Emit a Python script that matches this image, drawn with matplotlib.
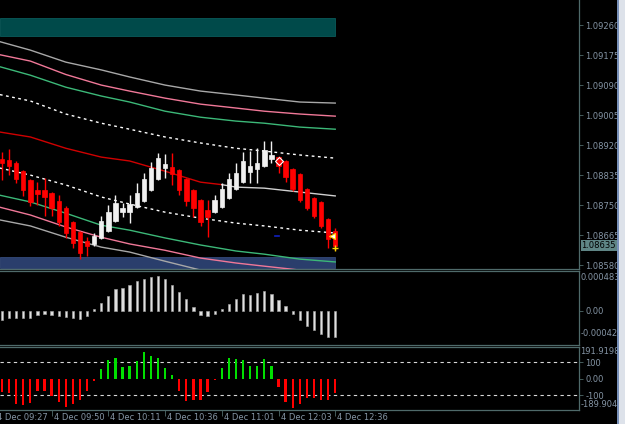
import matplotlib
matplotlib.use('Agg')
import matplotlib.pyplot as plt
import matplotlib.transforms as mtransforms
from matplotlib.patches import Rectangle
import numpy as np

# ---------------- data ----------------
time_tick_idx = [-1, 7, 15, 23, 31, 39, 47]
time_labels = ["4 Dec 09:27", "4 Dec 09:50", "4 Dec 10:11", "4 Dec 10:36",
               "4 Dec 11:01", "4 Dec 12:03", "4 Dec 12:36"]

opens = [1.08880, 1.08878, 1.08869, 1.08846, 1.08821, 1.08793, 1.08793, 1.08784,
         1.08761, 1.08742, 1.08702, 1.08674, 1.08648, 1.08640, 1.08657, 1.08676,
         1.08705, 1.08730, 1.08730, 1.08744, 1.08761, 1.08793, 1.08824, 1.08855,
         1.08858, 1.08849, 1.08824, 1.08793, 1.08764, 1.08736, 1.08730, 1.08744,
         1.08770, 1.08795, 1.08815, 1.08843, 1.08852, 1.08860, 1.08880, 1.08886,
         1.08875, 1.08852, 1.08838, 1.08795, 1.08770, 1.08759, 1.08710, 1.08676]
highs = [1.08900, 1.08909, 1.08875, 1.08849, 1.08824, 1.08815, 1.08827, 1.08787,
         1.08778, 1.08747, 1.08705, 1.08676, 1.08659, 1.08671, 1.08719, 1.08750,
         1.08778, 1.08756, 1.08778, 1.08812, 1.08841, 1.08872, 1.08897, 1.08895,
         1.08897, 1.08852, 1.08827, 1.08795, 1.08767, 1.08764, 1.08778, 1.08812,
         1.08841, 1.08869, 1.08900, 1.08903, 1.08912, 1.08931, 1.08931, 1.08889,
         1.08878, 1.08855, 1.08841, 1.08798, 1.08773, 1.08761, 1.08713, 1.08685]
lows = [1.08821, 1.08835, 1.08812, 1.08776, 1.08747, 1.08750, 1.08719, 1.08719,
        1.08691, 1.08657, 1.08628, 1.08597, 1.08605, 1.08634, 1.08654, 1.08674,
        1.08702, 1.08716, 1.08699, 1.08742, 1.08759, 1.08790, 1.08821, 1.08827,
        1.08807, 1.08778, 1.08747, 1.08716, 1.08691, 1.08659, 1.08727, 1.08742,
        1.08767, 1.08793, 1.08812, 1.08812, 1.08812, 1.08858, 1.08869, 1.08841,
        1.08815, 1.08790, 1.08759, 1.08736, 1.08713, 1.08685, 1.08628, 1.08622]
closes = [1.08869, 1.08860, 1.08824, 1.08793, 1.08759, 1.08781, 1.08773, 1.08742,
          1.08702, 1.08671, 1.08642, 1.08614, 1.08634, 1.08662, 1.08705, 1.08730,
          1.08756, 1.08742, 1.08753, 1.08784, 1.08824, 1.08855, 1.08883, 1.08866,
          1.08838, 1.08793, 1.08761, 1.08742, 1.08702, 1.08716, 1.08764, 1.08795,
          1.08824, 1.08841, 1.08875, 1.08860, 1.08869, 1.08906, 1.08892, 1.08860,
          1.08829, 1.08795, 1.08764, 1.08742, 1.08719, 1.08691, 1.08654, 1.08634]

band_idx = [-0.3, 4, 9, 14, 18, 23, 28, 33, 37, 42, 47]
upper_gray = [1.09213, 1.09189, 1.09155, 1.09133, 1.09113, 1.09090, 1.09073, 1.09062, 1.09053, 1.09042, 1.09039]
upper_pink = [1.09176, 1.09158, 1.09120, 1.09090, 1.09073, 1.09053, 1.09036, 1.09025, 1.09016, 1.09008, 1.09002]
upper_green = [1.09142, 1.09118, 1.09084, 1.09059, 1.09042, 1.09016, 1.08999, 1.08988, 1.08982, 1.08971, 1.08965]
upper_dash = [1.09063, 1.09045, 1.09008, 1.08982, 1.08965, 1.08943, 1.08926, 1.08911, 1.08903, 1.08892, 1.08883]
lower_dash = [1.08855, 1.08835, 1.08807, 1.08773, 1.08753, 1.08730, 1.08713, 1.08699, 1.08691, 1.08679, 1.08671]
lower_green = [1.08778, 1.08759, 1.08727, 1.08693, 1.08679, 1.08657, 1.08637, 1.08620, 1.08611, 1.08597, 1.08589]
lower_pink = [1.08744, 1.08722, 1.08688, 1.08659, 1.08640, 1.08622, 1.08600, 1.08586, 1.08577, 1.08566, 1.08557]
lower_gray = [1.08708, 1.08691, 1.08659, 1.08631, 1.08617, 1.08591, 1.08566, 1.08549, 1.08537, 1.08523, 1.08515]

mid_red_idx = [-0.3, 4, 9, 14, 18, 23, 28, 31]
mid_red = [1.08957, 1.08943, 1.08911, 1.08886, 1.08875, 1.08846, 1.08815, 1.08808]
mid_white_idx = [31, 33, 37, 42, 47]
mid_white = [1.08808, 1.08801, 1.08798, 1.08787, 1.08776]

osc = [-0.000118, -0.000097, -0.000088, -0.000088, -0.000097, -0.000055, -0.000042,
       -0.000055, -0.000067, -0.000076, -0.000097, -0.000109, -0.000067, 0.000017,
       0.000093, 0.000185, 0.000274, 0.000282, 0.000324, 0.000375, 0.000400,
       0.000425, 0.000438, 0.000391, 0.000324, 0.000236, 0.000147, 0.000046,
       -0.000055, -0.000063, -0.000042, 0.000021, 0.000080, 0.000147, 0.000210,
       0.000198, 0.000223, 0.000248, 0.000202, 0.000135, 0.000059, -0.000042,
       -0.000118, -0.000194, -0.000244, -0.000295, -0.000328, -0.000328]

cci = [-83, -89, -155, -161, -145, -77, -77, -108, -139, -172, -151, -130, -72, -17,
       58, 114, 124, 68, 77, 110, 159, 139, 124, 66, 25,
       -72, -134, -130, -128, -83, -8,
       66, 124, 118, 114, 77, 77, 118, 77,
       -48, -139, -176, -151, -120, -118, -128, -130, -89]

price_ticks = [1.08580, 1.08665, 1.08750, 1.08835, 1.08920, 1.09005, 1.09090, 1.09175, 1.09260]
last_price = 1.08635
zone_top = (1.09229, 1.09280)
zone_bottom = (1.08572, 1.08603)
osc_range = (-0.000426, 0.000483)
cci_range = (-189.9047, 191.9198)
cci_levels = [100, -100]

# ---------------- style ----------------
BG = 'black'
FRAME = '#4f6a6a'
LBL = '#8595a5'
FS = 6

fig = plt.figure(figsize=(6.25, 4.24), dpi=100, facecolor=BG)
W, H = 625.0, 424.0


def px_axes(top, bottom, left=0, right=579):
    return fig.add_axes([left / W, 1 - bottom / H, (right - left) / W, (bottom - top) / H])


ax1 = px_axes(0, 269)
ax2 = px_axes(271, 345)
ax3 = px_axes(347, 410)

xlim = (-0.28, 81.38)
for ax in (ax1, ax2, ax3):
    ax.set_facecolor(BG)
    ax.set_xlim(*xlim)
    ax.spines['left'].set_visible(False)
    for s in ('right', 'top', 'bottom'):
        ax.spines[s].set_color(FRAME)
        ax.spines[s].set_linewidth(0.9)
    ax.yaxis.tick_right()
    ax.tick_params(axis='y', colors=LBL, labelsize=FS, length=3, width=0.6, pad=1.5)
    ax.tick_params(axis='y', color=FRAME)
    ax.set_xticks([])
ax1.spines['top'].set_visible(False)

# ---------------- price panel ----------------
idx = np.arange(len(opens))
ax1.set_ylim(1.08569, 1.09331)

ax1.add_patch(Rectangle((-0.3, zone_top[0]), 47.3, zone_top[1] - zone_top[0],
                        facecolor='#004a4a', edgecolor='#0a5a5a', linewidth=0.6, zorder=1))
ax1.add_patch(Rectangle((-0.3, zone_bottom[0]), 47.3, zone_bottom[1] - zone_bottom[0],
                        facecolor='#2a3e6c', edgecolor='#34497a', linewidth=0.6, zorder=1))

ax1.plot(band_idx, upper_gray, color='#a8a8a8', lw=1.0, zorder=2)
ax1.plot(band_idx, upper_pink, color='#f07898', lw=1.0, zorder=2)
ax1.plot(band_idx, upper_green, color='#3cb878', lw=1.0, zorder=2)
ax1.plot(band_idx, upper_dash, color='white', lw=1.0, ls=(0, (2, 2.5)), zorder=2)
ax1.plot(mid_red_idx, mid_red, color='#d00000', lw=1.0, zorder=2)
ax1.plot(mid_white_idx, mid_white, color='#d0d0d0', lw=1.0, zorder=2)
ax1.plot(band_idx, lower_dash, color='white', lw=1.0, ls=(0, (2, 2.5)), zorder=2)
ax1.plot(band_idx, lower_green, color='#3cb878', lw=1.0, zorder=3)
ax1.plot(band_idx, lower_pink, color='#f07898', lw=1.0, zorder=3)
ax1.plot(band_idx, lower_gray, color='#a8a8a8', lw=1.0, zorder=3)

o = np.array(opens); c = np.array(closes); h = np.array(highs); l = np.array(lows)
up = c >= o
colors = np.where(up, '#f0f0f0', '#ff0000')
ax1.vlines(idx, l, h, colors=colors, lw=1.0, zorder=4)
body_bot = np.minimum(o, c)
body_h = np.maximum(np.abs(c - o), 0.000015)
ax1.bar(idx, body_h, bottom=body_bot, width=0.62, color=colors, edgecolor=colors,
        linewidth=0.5, zorder=5)

# signal markers
ax1.plot([39], [1.08875], marker='D', ms=4, mfc='#ff0000', mec='white', mew=0.8, zorder=6, ls='none')
ax1.plot([46.6], [1.08662], marker='<', ms=5, mfc='white', mec='#ffcc00', mew=0.8, zorder=6, ls='none')
ax1.plot([47], [1.08628], marker='+', ms=5, color='#ffd700', mew=1.0, zorder=6, ls='none')
ax1.plot([38.5, 39.1], [1.08662, 1.08662], color='#1020c0', lw=1.2, zorder=2)

ax1.set_yticks(price_ticks)
ax1.set_yticklabels(['%.5f' % v for v in price_ticks])

trans_r = mtransforms.blended_transform_factory(ax1.transAxes, ax1.transData)
off = mtransforms.ScaledTranslation(2.5 / 100, 0, fig.dpi_scale_trans)
ax1.text(1.0, last_price, '%.5f' % last_price, transform=trans_r + off, ha='left', va='center',
         fontsize=FS, color='black',
         bbox=dict(boxstyle='square,pad=0.12', fc='#5f8585', ec='none'), zorder=10, clip_on=False)

# ---------------- oscillator panel ----------------
ax2.set_ylim(osc_range[0] - 0.000006, osc_range[1] + 0.000012)
ax2.bar(idx, osc, width=0.32, color='#e0e0e0', edgecolor='#a8a8a8', linewidth=0.4, zorder=3)
ax2.set_yticks([0])
ax2.set_yticklabels(['0.00'])
off2 = mtransforms.ScaledTranslation(1.5 / 100, 0, fig.dpi_scale_trans)
ax2.text(1.0, 0.915, '%.6f' % osc_range[1], transform=ax2.transAxes + off2, ha='left', va='center',
         fontsize=FS, color=LBL, clip_on=False)
ax2.text(1.0, 0.15, '%.6f' % osc_range[0], transform=ax2.transAxes + off2, ha='left', va='center',
         fontsize=FS, color=LBL, clip_on=False)

# ---------------- CCI panel ----------------
ax3.set_ylim(*cci_range)
cci_arr = np.array(cci)
ccol = np.where(cci_arr >= 0, '#00e000', '#ff0000')
ax3.bar(idx, cci_arr, width=0.32, color=ccol, zorder=3)
for lv in cci_levels:
    ax3.axhline(lv, color='#d8d8d8', lw=0.8, ls=(0, (3, 3)), zorder=2)
ax3.set_yticks([100, 0, -100])
ax3.set_yticklabels(['100', '0.00', '-100'])
ax3.text(1.0, 0.935, '%.4f' % cci_range[1], transform=ax3.transAxes + off2, ha='left', va='center',
         fontsize=FS, color=LBL, clip_on=False)
ax3.text(1.0, 0.09, '%.4f' % cci_range[0], transform=ax3.transAxes + off2, ha='left', va='center',
         fontsize=FS, color=LBL, clip_on=False)

# time axis
vis = [t for t in time_tick_idx if xlim[0] <= t <= xlim[1]]
ax3.set_xticks(vis)
ax3.set_xticklabels([])
ax3.tick_params(axis='x', colors=FRAME, length=4, width=0.6, direction='out')
trans_t = mtransforms.blended_transform_factory(ax3.transData, ax3.transAxes)
offt = mtransforms.ScaledTranslation(2 / 100, 0, fig.dpi_scale_trans)
for t, lab in zip(time_tick_idx, time_labels):
    ax3.text(t, -0.115, lab, transform=trans_t + offt, ha='left', va='center',
             fontsize=FS, color=LBL, clip_on=False)

# window edge strip on the right
fig.patches.append(Rectangle((617 / W, 0), 1.5 / W, 1, transform=fig.transFigure,
                             facecolor='#7890b8', edgecolor='none'))
fig.patches.append(Rectangle((618.5 / W, 0), 6.5 / W, 1, transform=fig.transFigure,
                             facecolor='#dde2ea', edgecolor='none'))

fig.savefig('out.png', dpi=100, facecolor=BG)
